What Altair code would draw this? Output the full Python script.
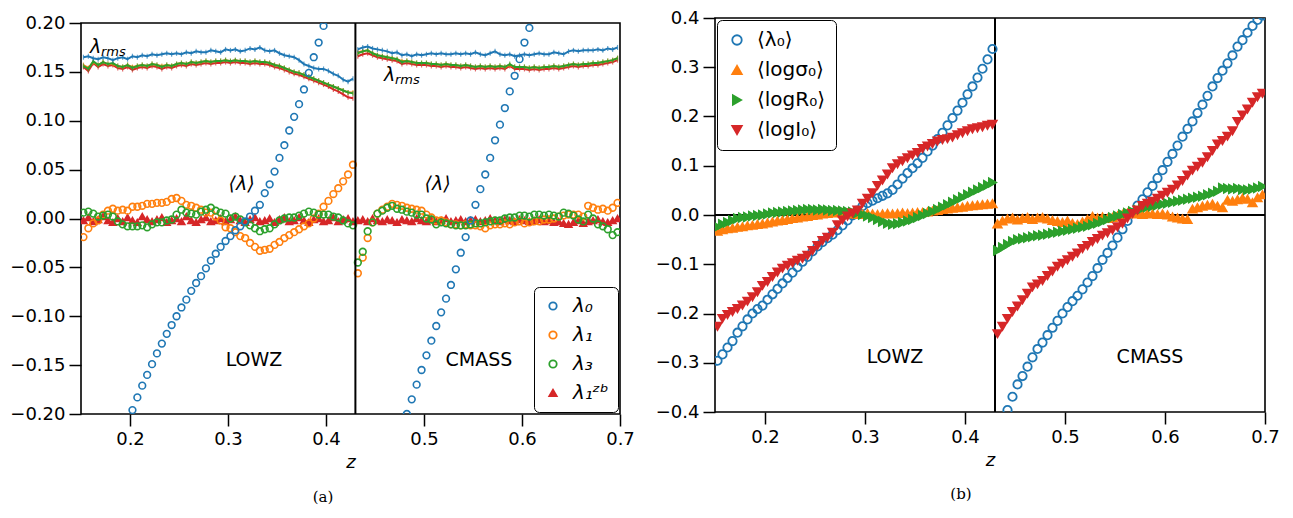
import altair as alt
import pandas as pd

FONT = "DejaVu Sans"
BLUE, ORANGE, GREEN, RED = "#1f77b4", "#ff7f0e", "#2ca02c", "#d62728"

# redshift bins (centres) of the two samples
LOWZ_Z = [round(0.1525 + 0.005 * i, 4) for i in range(56)]
CMASS_Z = [round(0.4325 + 0.005 * i, 4) for i in range(54)]

# ---------------- panel (a): rms values ----------------
A_RMS_L0_LOWZ = [0.165,0.166,0.164,0.163,0.165,0.164,0.162,0.164,
 0.165,0.163,0.166,0.165,0.167,0.166,0.168,0.167,
 0.168,0.169,0.168,0.169,0.168,0.170,0.169,0.171,
 0.170,0.170,0.172,0.171,0.170,0.173,0.172,0.173,
 0.171,0.172,0.174,0.173,0.175,0.172,0.171,0.172,
 0.169,0.167,0.166,0.165,0.162,0.158,0.156,0.154,
 0.153,0.153,0.151,0.148,0.146,0.142,0.140,0.143]
A_RMS_L1_LOWZ = [0.157,0.154,0.160,0.157,0.160,0.158,0.158,0.156,
 0.155,0.157,0.155,0.156,0.157,0.156,0.158,0.157,
 0.156,0.157,0.156,0.158,0.159,0.158,0.160,0.159,
 0.160,0.161,0.160,0.161,0.161,0.162,0.161,0.162,
 0.161,0.161,0.160,0.161,0.160,0.160,0.159,0.157,
 0.156,0.154,0.152,0.150,0.149,0.147,0.145,0.143,
 0.141,0.139,0.137,0.135,0.133,0.131,0.129,0.129]
A_RMS_L3_LOWZ = [0.156,0.153,0.161,0.157,0.160,0.158,0.159,0.156,
 0.155,0.157,0.154,0.156,0.157,0.156,0.158,0.157,
 0.155,0.157,0.156,0.158,0.159,0.158,0.160,0.159,
 0.160,0.161,0.160,0.161,0.161,0.162,0.161,0.162,
 0.161,0.161,0.160,0.161,0.160,0.160,0.159,0.157,
 0.156,0.154,0.152,0.150,0.149,0.147,0.145,0.143,
 0.141,0.139,0.137,0.135,0.133,0.131,0.129,0.128]
A_RMS_ZB_LOWZ = [0.155,0.151,0.159,0.155,0.158,0.156,0.157,0.154,
 0.153,0.155,0.152,0.154,0.155,0.154,0.156,0.155,
 0.153,0.155,0.154,0.156,0.157,0.156,0.158,0.157,
 0.158,0.159,0.158,0.159,0.159,0.160,0.159,0.160,
 0.159,0.159,0.158,0.159,0.158,0.158,0.157,0.155,
 0.154,0.152,0.150,0.148,0.147,0.145,0.143,0.141,
 0.139,0.137,0.135,0.132,0.130,0.127,0.124,0.123]

A_RMS_L0_CMASS = [0.173,0.175,0.176,0.174,0.173,0.172,0.171,0.169,0.170,
 0.167,0.168,0.166,0.168,0.167,0.168,0.169,0.168,0.169,
 0.168,0.168,0.169,0.168,0.169,0.168,0.170,0.168,0.167,
 0.169,0.171,0.168,0.167,0.168,0.166,0.167,0.168,0.167,
 0.168,0.169,0.168,0.168,0.170,0.169,0.168,0.171,0.172,
 0.171,0.172,0.172,0.172,0.173,0.172,0.174,0.173,0.175]
A_RMS_L1_CMASS = [0.170,0.171,0.172,0.169,0.167,0.166,0.165,0.164,0.163,
 0.161,0.161,0.160,0.159,0.159,0.159,0.158,0.158,0.157,
 0.158,0.157,0.157,0.156,0.157,0.156,0.155,0.156,0.155,
 0.156,0.155,0.156,0.155,0.157,0.155,0.155,0.155,0.154,
 0.155,0.154,0.155,0.155,0.156,0.155,0.156,0.157,0.158,
 0.157,0.158,0.158,0.159,0.159,0.160,0.161,0.162,0.164]
A_RMS_L3_CMASS = [0.169,0.171,0.172,0.169,0.167,0.166,0.165,0.164,0.163,
 0.160,0.161,0.160,0.159,0.159,0.159,0.158,0.158,0.157,
 0.158,0.157,0.157,0.156,0.157,0.156,0.155,0.156,0.155,
 0.156,0.155,0.156,0.155,0.158,0.155,0.155,0.155,0.154,
 0.155,0.154,0.155,0.155,0.156,0.155,0.156,0.157,0.158,
 0.157,0.158,0.158,0.159,0.159,0.160,0.161,0.162,0.164]
A_RMS_ZB_CMASS = [0.166,0.168,0.169,0.167,0.165,0.164,0.163,0.162,0.161,
 0.158,0.159,0.158,0.157,0.157,0.157,0.156,0.156,0.155,
 0.156,0.155,0.155,0.154,0.155,0.154,0.153,0.154,0.153,
 0.154,0.153,0.154,0.153,0.156,0.153,0.153,0.153,0.152,
 0.153,0.152,0.153,0.153,0.154,0.153,0.154,0.155,0.156,
 0.155,0.156,0.156,0.157,0.157,0.158,0.159,0.160,0.162]

# ---------------- panel (a): mean values ----------------
A_MEAN_L0_LOWZ = [None] * 10 + [-0.196,-0.183,-0.171,-0.160,-0.149,-0.138,-0.128,-0.118,-0.109,-0.100,
 -0.091,-0.083,-0.074,-0.066,-0.059,-0.051,-0.043,-0.036,-0.029,-0.023,
 -0.018,-0.012,-0.008,-0.003,0.002,0.008,0.014,0.026,0.035,0.048,
 0.062,0.075,0.090,0.104,0.117,0.132,0.149,0.165,0.180,0.197] + [None] * 6
A_MEAN_L1_LOWZ = [-0.019,-0.010,-0.005,-0.002,0.004,0.008,0.010,0.008,0.009,0.008,
 0.012,0.012,0.013,0.015,0.015,0.016,0.016,0.017,0.020,0.021,
 0.018,0.014,0.013,0.011,0.009,0.006,0.006,0.002,-0.002,-0.009,
 -0.010,-0.014,-0.018,-0.020,-0.025,-0.029,-0.033,-0.032,-0.031,-0.027,
 -0.024,-0.020,-0.017,-0.014,-0.011,-0.008,-0.005,0.000,0.005,0.012,
 0.018,0.025,0.031,0.038,0.045,0.055]
A_MEAN_L3_LOWZ = [0.006,0.007,0.005,0.002,0.003,0.004,0.002,-0.003,-0.006,-0.008,
 -0.008,-0.008,-0.007,-0.009,-0.006,-0.004,-0.004,-0.002,-0.001,0.004,
 0.009,0.006,0.005,0.004,0.007,0.009,0.011,0.008,0.006,0.005,
 0.000,0.002,-0.001,-0.004,-0.007,-0.010,-0.013,-0.011,-0.010,-0.006,
 -0.002,0.000,0.001,0.001,0.003,0.005,0.007,0.006,0.004,0.004,
 0.004,0.002,0.001,-0.002,-0.005,-0.007]
A_MEAN_ZB_LOWZ = [-0.002,0.001,-0.003,-0.001,0.002,-0.002,-0.004,0.000,
 -0.003,0.001,-0.002,-0.004,0.002,-0.001,-0.003,-0.001,
 0.001,-0.004,-0.002,0.000,-0.003,0.002,-0.002,-0.004,
 -0.001,0.001,-0.003,-0.002,0.000,-0.003,-0.001,0.002,
 -0.002,-0.004,-0.001,0.001,-0.003,-0.002,0.000,-0.004,
 -0.001,0.001,-0.003,-0.002,0.001,-0.002,-0.004,-0.001,
 0.000,-0.003,-0.002,0.001,-0.003,-0.001,0.000,-0.003]

A_MEAN_L0_CMASS = [None] * 10 + [-0.200,-0.185,-0.170,-0.155,-0.140,-0.125,-0.110,-0.096,-0.082,-0.068,
 -0.052,-0.035,-0.019,-0.002,0.014,0.030,0.045,0.062,0.080,0.096,
 0.113,0.130,0.146,0.163,0.180,0.195] + [None] * 18
A_MEAN_L1_CMASS = [-0.056,-0.040,-0.020,-0.004,0.005,0.009,0.012,0.015,0.014,
 0.013,0.011,0.010,0.009,0.008,0.004,0.001,-0.002,-0.002,
 -0.004,-0.006,-0.006,-0.007,-0.006,-0.007,-0.007,-0.008,-0.010,
 -0.007,-0.006,-0.006,-0.005,-0.006,-0.004,-0.003,-0.005,-0.004,
 -0.003,-0.003,-0.001,-0.001,0.000,0.002,0.003,0.004,0.004,
 0.004,0.002,0.013,0.011,0.009,0.010,0.008,0.011,0.016]
A_MEAN_L3_CMASS = [-0.045,-0.034,-0.013,-0.004,0.005,0.008,0.011,0.013,0.010,
 0.009,0.007,0.006,0.004,0.004,0.000,-0.001,-0.006,-0.004,
 -0.005,-0.006,-0.007,-0.007,-0.007,-0.006,-0.005,-0.005,-0.004,
 -0.003,-0.002,-0.002,0.000,0.001,0.001,0.003,0.003,0.002,
 0.004,0.004,0.003,0.004,0.003,0.002,0.006,0.005,0.003,
 -0.001,-0.003,0.004,0.000,-0.006,-0.008,-0.011,-0.017,-0.014]
A_MEAN_ZB_CMASS = [-0.002,-0.001,-0.003,0.000,-0.002,-0.003,-0.001,-0.002,-0.004,
 -0.001,-0.002,-0.003,0.000,-0.002,-0.003,-0.001,-0.003,-0.002,
 0.000,-0.003,-0.002,-0.001,-0.003,-0.002,-0.001,-0.003,-0.002,
 0.000,-0.002,-0.003,-0.001,-0.002,-0.003,-0.001,-0.002,-0.003,
 -0.002,-0.001,-0.003,-0.002,-0.004,-0.003,-0.005,-0.006,-0.004,
 -0.002,-0.005,-0.003,-0.002,-0.001,-0.003,-0.004,-0.002,0.000]

# ---------------- panel (b) ----------------
B_L0_LOWZ = [-0.296,-0.283,-0.269,-0.256,-0.239,-0.226,-0.212,-0.200,
 -0.191,-0.184,-0.172,-0.161,-0.150,-0.139,-0.128,-0.117,
 -0.106,-0.095,-0.085,-0.074,-0.064,-0.055,-0.047,-0.040,
 -0.031,-0.021,-0.011,-0.001,0.009,0.018,0.024,0.029,
 0.034,0.039,0.044,0.051,0.062,0.074,0.085,0.095,
 0.105,0.116,0.129,0.141,0.154,0.167,0.182,0.197,
 0.212,0.228,0.245,0.261,0.279,0.297,0.316,0.337]
B_SIG_LOWZ = [-0.033,-0.030,-0.028,-0.027,-0.025,-0.024,-0.022,-0.021,
 -0.019,-0.018,-0.016,-0.014,-0.012,-0.011,-0.009,-0.007,
 -0.006,-0.004,-0.003,-0.001,0.000,0.002,0.003,0.004,
 0.005,0.004,0.003,0.002,0.001,0.002,0.003,0.002,
 0.001,0.002,0.003,0.002,0.003,0.004,0.003,0.004,
 0.005,0.005,0.006,0.008,0.009,0.011,0.012,0.014,
 0.015,0.016,0.018,0.019,0.020,0.021,0.022,0.023]
B_R_LOWZ = [-0.024,-0.019,-0.015,-0.011,-0.007,-0.005,-0.004,-0.002,
 -0.001,0.000,0.002,0.004,0.005,0.006,0.007,0.008,
 0.009,0.010,0.011,0.011,0.010,0.011,0.010,0.009,
 0.009,0.008,0.007,0.006,0.004,0.001,-0.002,-0.005,
 -0.009,-0.013,-0.017,-0.019,-0.018,-0.015,-0.012,-0.009,
 -0.005,-0.001,0.003,0.007,0.011,0.016,0.021,0.026,
 0.031,0.036,0.041,0.046,0.051,0.056,0.061,0.066]
B_I_LOWZ = [-0.226,-0.210,-0.202,-0.196,-0.190,-0.183,-0.175,-0.166,
 -0.156,-0.143,-0.135,-0.125,-0.116,-0.108,-0.102,-0.097,
 -0.092,-0.088,-0.082,-0.072,-0.062,-0.052,-0.045,-0.035,
 -0.020,-0.010,-0.002,0.004,0.010,0.024,0.034,0.045,
 0.060,0.071,0.083,0.096,0.104,0.110,0.116,0.122,
 0.127,0.135,0.140,0.145,0.150,0.153,0.155,0.158,
 0.163,0.167,0.171,0.175,0.177,0.179,0.182,0.184]

B_L0_CMASS = [None,None,-0.396,-0.369,-0.344,-0.327,-0.308,-0.289,-0.272,
 -0.259,-0.244,-0.229,-0.215,-0.200,-0.187,-0.175,-0.164,-0.151,
 -0.137,-0.124,-0.108,-0.091,-0.077,-0.062,-0.046,-0.029,-0.012,
 0.004,0.019,0.032,0.046,0.059,0.075,0.091,0.108,0.124,
 0.141,0.159,0.175,0.190,0.207,0.224,0.242,0.261,0.278,
 0.293,0.308,0.324,0.342,0.355,0.370,0.384,0.396,0.405]
B_SIG_CMASS = [-0.018,-0.012,-0.008,-0.006,-0.010,-0.007,-0.005,-0.009,-0.006,
 -0.005,-0.008,-0.011,-0.013,-0.015,-0.012,-0.017,-0.019,-0.014,
 -0.009,-0.003,-0.006,-0.004,-0.007,-0.005,-0.002,0.001,0.004,
 0.002,0.003,0.001,0.003,0.002,0.001,0.002,0.000,-0.004,
 -0.006,-0.008,-0.009,0.012,0.015,0.018,0.020,0.022,0.018,
 0.015,0.030,0.028,0.031,0.034,0.032,0.025,0.035,0.041]
B_R_CMASS = [-0.072,-0.066,-0.060,-0.054,-0.050,-0.048,-0.046,-0.044,-0.042,
 -0.041,-0.039,-0.037,-0.035,-0.033,-0.031,-0.029,-0.027,-0.025,
 -0.023,-0.020,-0.017,-0.013,-0.009,-0.005,-0.002,0.001,0.004,
 0.007,0.010,0.013,0.016,0.018,0.020,0.022,0.024,0.026,
 0.028,0.030,0.032,0.034,0.036,0.038,0.041,0.044,0.048,
 0.055,0.054,0.053,0.054,0.052,0.051,0.053,0.055,0.058]
B_I_CMASS = [-0.241,-0.226,-0.210,-0.196,-0.185,-0.172,-0.159,-0.146,-0.140,
 -0.133,-0.123,-0.114,-0.104,-0.098,-0.091,-0.084,-0.077,-0.068,
 -0.062,-0.054,-0.048,-0.041,-0.036,-0.030,-0.024,-0.017,-0.006,
 0.003,0.010,0.019,0.024,0.028,0.034,0.040,0.046,0.052,
 0.061,0.070,0.081,0.091,0.099,0.107,0.118,0.131,0.144,
 0.151,0.160,0.171,0.190,0.203,0.215,0.229,0.240,0.247]

A_SERIES = ["λ₀", "λ₁", "λ₃", "λ₁ᶻᵇ"]
B_SERIES = ["⟨λ₀⟩", "⟨logσ₀⟩", "⟨logR₀⟩", "⟨logI₀⟩"]
COLORS = [BLUE, ORANGE, GREEN, RED]

A_REGION_TEXT = ["LOWZ", "CMASS"]
A_REGION_Z = [0.3265, 0.556]
A_REGION_V = [-0.145, -0.145]
A_RMS_Z = [0.1592, 0.4592]
A_RMS_V = [0.1693, 0.1407]
A_MEAN_Z = [0.3138, 0.5138]
A_MEAN_V = [0.0353, 0.0353]
B_REGION_Z = [0.330, 0.585]
B_REGION_V = [-0.289, -0.289]
A_CAPTION = {"t": ["(a)"], "z": [0.397], "v": [-0.285]}
B_CAPTION = {"t": ["(b)"], "z": [0.396], "v": [-0.566]}
Z_SPLIT = 0.43

INDEP = dict(stroke="independent", fill="independent", shape="independent")


def seg(zs, vals, series, part):
    d = pd.DataFrame({"z": zs, "v": pd.array(vals, dtype="Float64")})
    d["series"] = series
    d["seg"] = part
    d = d.dropna()
    d["v"] = d["v"].astype(float)
    return d


X_SCALE = alt.Scale(domain=[0.15, 0.7], nice=False, zero=False)
X_AXIS = alt.Axis(values=[0.2, 0.3, 0.4, 0.5, 0.6, 0.7], format=".1f", title="z",
                  titleFont=FONT, titleFontSize=18, titleFontStyle="italic",
                  titleFontWeight="normal", titleColor="black", titlePadding=5,
                  grid=False, domain=False, tickSize=12, tickWidth=1.5, tickColor="black",
                  labelFont=FONT, labelFontSize=18, labelColor="black", labelPadding=4,
                  labelFlush=False)


def y_axis(vals, fmt):
    return alt.Axis(values=vals, format=fmt, title=None, grid=False, domain=False,
                    tickSize=12, tickWidth=1.5, tickColor="black", labelFont=FONT,
                    labelFontSize=18, labelColor="black", labelPadding=4, labelFlush=False)


YA_SCALE = alt.Scale(domain=[-0.2, 0.2], nice=False, zero=False)
YA_AXIS = y_axis([-0.2, -0.15, -0.1, -0.05, 0.0, 0.05, 0.1, 0.15, 0.2], ".2f")
YB_SCALE = alt.Scale(domain=[-0.4, 0.4], nice=False, zero=False)
YB_AXIS = y_axis([-0.4, -0.3, -0.2, -0.1, 0.0, 0.1, 0.2, 0.3, 0.4], ".1f")


def xa():
    return alt.X("z:Q", scale=X_SCALE, axis=X_AXIS)


def ya():
    return alt.Y("v:Q", scale=YA_SCALE, axis=YA_AXIS)


def yb():
    return alt.Y("v:Q", scale=YB_SCALE, axis=YB_AXIS)


# ---------- panel (a) ----------
layers_a = []
rms_sets = [(RED, A_RMS_ZB_LOWZ, A_RMS_ZB_CMASS), (ORANGE, A_RMS_L1_LOWZ, A_RMS_L1_CMASS),
            (GREEN, A_RMS_L3_LOWZ, A_RMS_L3_CMASS), (BLUE, A_RMS_L0_LOWZ, A_RMS_L0_CMASS)]
for color, low, cm in rms_sets:
    d = pd.concat([seg(LOWZ_Z, low, color, "LOWZ"), seg(CMASS_Z, cm, color, "CMASS")])
    base = alt.Chart(d).encode(x=xa(), y=ya(), detail="seg:N")
    layers_a.append(base.mark_line(color=color, strokeWidth=2))
    layers_a.append(base.mark_tick(color=color, orient="vertical", size=5, thickness=1.2))

mean_a = pd.concat([
    seg(LOWZ_Z, A_MEAN_ZB_LOWZ, A_SERIES[3], "LOWZ"), seg(CMASS_Z, A_MEAN_ZB_CMASS, A_SERIES[3], "CMASS"),
    seg(LOWZ_Z, A_MEAN_L1_LOWZ, A_SERIES[1], "LOWZ"), seg(CMASS_Z, A_MEAN_L1_CMASS, A_SERIES[1], "CMASS"),
    seg(LOWZ_Z, A_MEAN_L3_LOWZ, A_SERIES[2], "LOWZ"), seg(CMASS_Z, A_MEAN_L3_CMASS, A_SERIES[2], "CMASS"),
    seg(LOWZ_Z, A_MEAN_L0_LOWZ, A_SERIES[0], "LOWZ"), seg(CMASS_Z, A_MEAN_L0_CMASS, A_SERIES[0], "CMASS"),
])

leg_a = alt.Legend(title=None, orient="bottom-right", offset=2, labelFont=FONT, labelFontSize=20,
                   labelFontStyle="italic", labelColor="black", symbolSize=55, symbolStrokeWidth=1.8,
                   rowPadding=9, padding=9, labelOffset=10, strokeColor="black", cornerRadius=5,
                   fillColor="white")
layers_a.append(
    alt.Chart(mean_a).mark_point(opacity=1, strokeWidth=1.6, size=45, clip=True).encode(
        x=xa(), y=ya(),
        stroke=alt.Stroke("series:N", scale=alt.Scale(domain=A_SERIES, range=COLORS), legend=leg_a),
        fill=alt.Fill("series:N", scale=alt.Scale(domain=A_SERIES, range=["transparent"] * 3 + [RED]), legend=leg_a),
        shape=alt.Shape("series:N", scale=alt.Scale(domain=A_SERIES, range=["circle", "circle", "circle", "triangle-up"]), legend=leg_a),
    )
)

layers_a.append(alt.Chart(pd.DataFrame({"z": [Z_SPLIT]})).mark_rule(color="black", strokeWidth=2).encode(x=xa()))

txt = pd.DataFrame({"z": A_REGION_Z, "v": A_REGION_V, "t": A_REGION_TEXT})
layers_a.append(alt.Chart(txt).mark_text(font=FONT, fontSize=19, color="black").encode(x=xa(), y=ya(), text="t:N"))
rms_t = pd.DataFrame({"z": A_RMS_Z, "v": A_RMS_V})
layers_a.append(alt.Chart(rms_t).mark_text(font=FONT, fontSize=19, fontStyle="italic", color="black",
                                           align="left", baseline="alphabetic", text="λ").encode(x=xa(), y=ya()))
layers_a.append(alt.Chart(rms_t).mark_text(font=FONT, fontSize=13, fontStyle="italic", color="black",
                                           align="left", baseline="alphabetic", dx=11, dy=3, text="rms").encode(x=xa(), y=ya()))
mean_t = pd.DataFrame({"z": A_MEAN_Z, "v": A_MEAN_V})
layers_a.append(alt.Chart(mean_t).mark_text(font=FONT, fontSize=19, fontStyle="italic", color="black",
                                            text="⟨λ⟩").encode(x=xa(), y=ya()))
layers_a.append(alt.Chart(pd.DataFrame(A_CAPTION)).mark_text(font="DejaVu Serif", fontSize=15, color="black").encode(
    x=xa(), y=ya(), text="t:N"))

panel_a = alt.layer(*layers_a).properties(
    width=539, height=391,
    view=alt.ViewBackground(stroke="black", strokeWidth=1.6),
)

# thin invisible strip that sets panel (a) slightly lower than panel (b)
spacer = alt.Chart(pd.DataFrame({"a": [0]})).mark_rule(opacity=0).encode(
    x=alt.value(0), x2=alt.value(1), y=alt.value(0)
).properties(width=10, height=1, view=alt.ViewBackground(stroke="transparent"))

left = alt.vconcat(spacer, panel_a, spacing=-7).resolve_scale(**INDEP).resolve_legend(**INDEP)

# ---------- panel (b) ----------
mean_b = pd.concat([
    seg(LOWZ_Z, B_L0_LOWZ, B_SERIES[0], "LOWZ"), seg(CMASS_Z, B_L0_CMASS, B_SERIES[0], "CMASS"),
    seg(LOWZ_Z, B_SIG_LOWZ, B_SERIES[1], "LOWZ"), seg(CMASS_Z, B_SIG_CMASS, B_SERIES[1], "CMASS"),
    seg(LOWZ_Z, B_R_LOWZ, B_SERIES[2], "LOWZ"), seg(CMASS_Z, B_R_CMASS, B_SERIES[2], "CMASS"),
    seg(LOWZ_Z, B_I_LOWZ, B_SERIES[3], "LOWZ"), seg(CMASS_Z, B_I_CMASS, B_SERIES[3], "CMASS"),
])
leg_b = alt.Legend(title=None, orient="top-left", offset=2, labelFont=FONT, labelFontSize=20,
                   labelColor="black", symbolSize=90, symbolStrokeWidth=1.8,
                   rowPadding=10, padding=10, labelOffset=10, strokeColor="black", cornerRadius=5,
                   fillColor="white")
layers_b = [
    alt.Chart(pd.DataFrame({"v": [0.0]})).mark_rule(color="black", strokeWidth=2).encode(y=yb()),
    alt.Chart(pd.DataFrame({"z": [Z_SPLIT]})).mark_rule(color="black", strokeWidth=2).encode(x=xa()),
    alt.Chart(mean_b).mark_point(opacity=1, strokeWidth=1.8, size=70, clip=True).encode(
        x=xa(), y=yb(),
        stroke=alt.Stroke("series:N", scale=alt.Scale(domain=B_SERIES, range=COLORS), legend=leg_b),
        fill=alt.Fill("series:N", scale=alt.Scale(domain=B_SERIES, range=["transparent", ORANGE, GREEN, RED]), legend=leg_b),
        shape=alt.Shape("series:N", scale=alt.Scale(domain=B_SERIES, range=["circle", "triangle-up", "triangle-right", "triangle-down"]), legend=leg_b),
    ),
]
txt_b = pd.DataFrame({"z": B_REGION_Z, "v": B_REGION_V, "t": A_REGION_TEXT})
layers_b.append(alt.Chart(txt_b).mark_text(font=FONT, fontSize=19, color="black").encode(x=xa(), y=yb(), text="t:N"))
layers_b.append(alt.Chart(pd.DataFrame(B_CAPTION)).mark_text(font="DejaVu Serif", fontSize=15, color="black").encode(
    x=xa(), y=yb(), text="t:N"))

panel_b = alt.layer(*layers_b).properties(
    width=550, height=394,
    view=alt.ViewBackground(stroke="black", strokeWidth=1.6),
)

chart = alt.hconcat(left, panel_b, spacing=18).resolve_scale(
    x="independent", y="independent", **INDEP
).resolve_legend(**INDEP).properties(
    padding={"left": 1, "top": 0, "right": 0, "bottom": 0}
).configure_view(stroke="transparent").configure(background="white")

chart.save("out.html", embed_options={"renderer": "svg", "actions": False})
